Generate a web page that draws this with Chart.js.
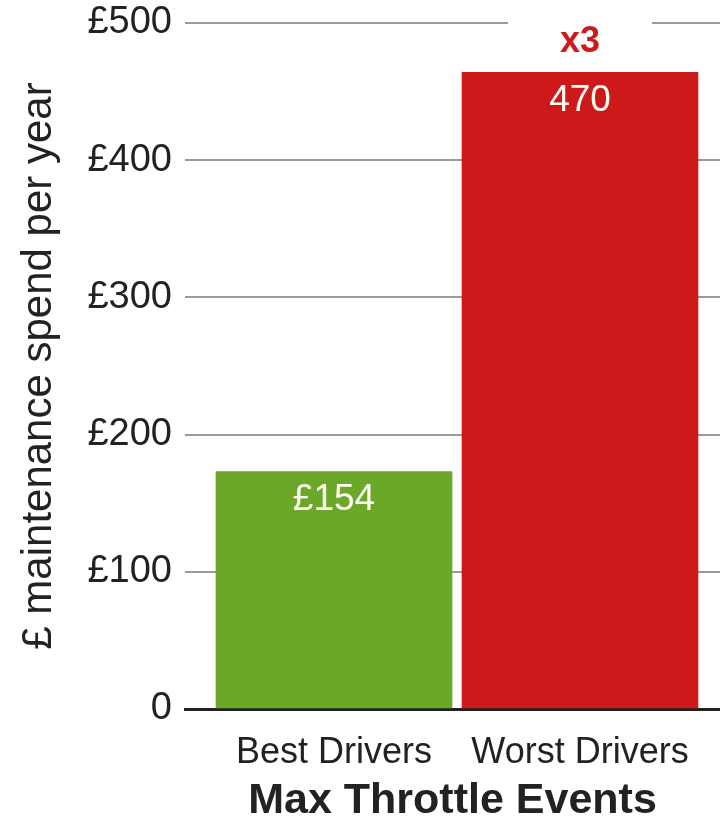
<!DOCTYPE html>
<html><head><meta charset="utf-8">
<script src="https://cdn.jsdelivr.net/npm/chart.js@4"></script>
<style>html,body{margin:0;padding:0;background:#fff}#wrap{width:720px;height:820px;position:relative}</style>
</head><body><div id="wrap"><canvas id="c" width="720" height="820"></canvas></div>
<script>
const categories = ['Best Drivers', 'Worst Drivers'];
const spendValues = [173, 464];
const barLabels = ['£154', '470'];
const barColors = ['#6ba82a', '#ce191b'];
const yTicks = [0, 100, 200, 300, 400, 500];
const yTickLabels = ['0', '£100', '£200', '£300', '£400', '£500'];
const multiplierLabel = 'x3';
const yAxisTitle = '£ maintenance spend per year';
const xAxisTitle = 'Max Throttle Events';

const FONT = "'Liberation Sans', Arial, sans-serif";

const labelPlugin = {
  id: 'labels',
  afterDatasetsDraw(chart) {
    const ctx = chart.ctx;
    const meta = chart.getDatasetMeta(0);
    ctx.save();
    ctx.textAlign = 'center';
    ctx.textBaseline = 'middle';
    ctx.font = '37px ' + FONT;
    ctx.fillStyle = '#fffdf2';
    meta.data.forEach((bar, i) => {
      ctx.fillText(barLabels[i], bar.x, bar.y + 28);
    });
    const last = meta.data[meta.data.length - 1];
    const y500 = chart.scales.y.getPixelForValue(500);
    ctx.fillStyle = '#ffffff';
    ctx.fillRect(last.x - 72, y500 - 10, 144, 40);
    ctx.font = 'bold 36px ' + FONT;
    ctx.fillStyle = '#cc1a1d';
    ctx.fillText(multiplierLabel, last.x, y500 + 19);
    ctx.restore();
  }
};

new Chart(document.getElementById('c'), {
  type: 'bar',
  data: {
    datasets: [{
      data: spendValues.map((v, i) => ({ x: i, y: v })),
      backgroundColor: barColors,
      borderWidth: 0,
      barThickness: 236
    }]
  },
  options: {
    responsive: false,
    devicePixelRatio: 1,
    animation: false,
    layout: { padding: { top: 23, left: 0, right: 0, bottom: 0 } },
    plugins: { legend: { display: false }, tooltip: { enabled: false } },
    scales: {
      x: {
        type: 'linear',
        offset: false,
        min: -0.6057,
        max: 1.5691,
        grid: { display: false, drawTicks: false, offset: false },
        border: { display: true, color: '#222', width: 3 },
        ticks: {
          stepSize: 1,
          includeBounds: false,
          autoSkip: false,
          maxRotation: 0,
          padding: 22,
          color: '#222',
          font: { family: FONT, size: 36 },
          callback: (v) => Number.isInteger(v) && categories[v] !== undefined ? categories[v] : ''
        },
        title: {
          display: true,
          text: xAxisTitle,
          color: '#222',
          font: { family: FONT, size: 43, weight: 'bold', lineHeight: 0.9 },
          padding: { top: 6, bottom: 0 }
        },
        afterFit: (s) => { s.height = 111; s.paddingLeft = 0; s.paddingRight = 0; }
      },
      y: {
        min: 0,
        max: 500,
        grid: { color: '#9a9a9a', lineWidth: 2, drawTicks: false },
        border: { display: false },
        ticks: {
          stepSize: 100,
          padding: 13,
          color: '#222',
          font: { family: FONT, size: 38 },
          callback: (v) => { const k = yTicks.indexOf(v); return k >= 0 ? yTickLabels[k] : ''; }
        },
        title: {
          display: true,
          text: yAxisTitle,
          color: '#222',
          font: { family: FONT, size: 42, lineHeight: 1 },
          padding: { top: 18, bottom: 0 }
        },
        afterFit: (s) => { s.width = 185; s.paddingTop = 0; s.paddingBottom = 0; }
      }
    }
  },
  plugins: [labelPlugin]
});
</script>
</body></html>
